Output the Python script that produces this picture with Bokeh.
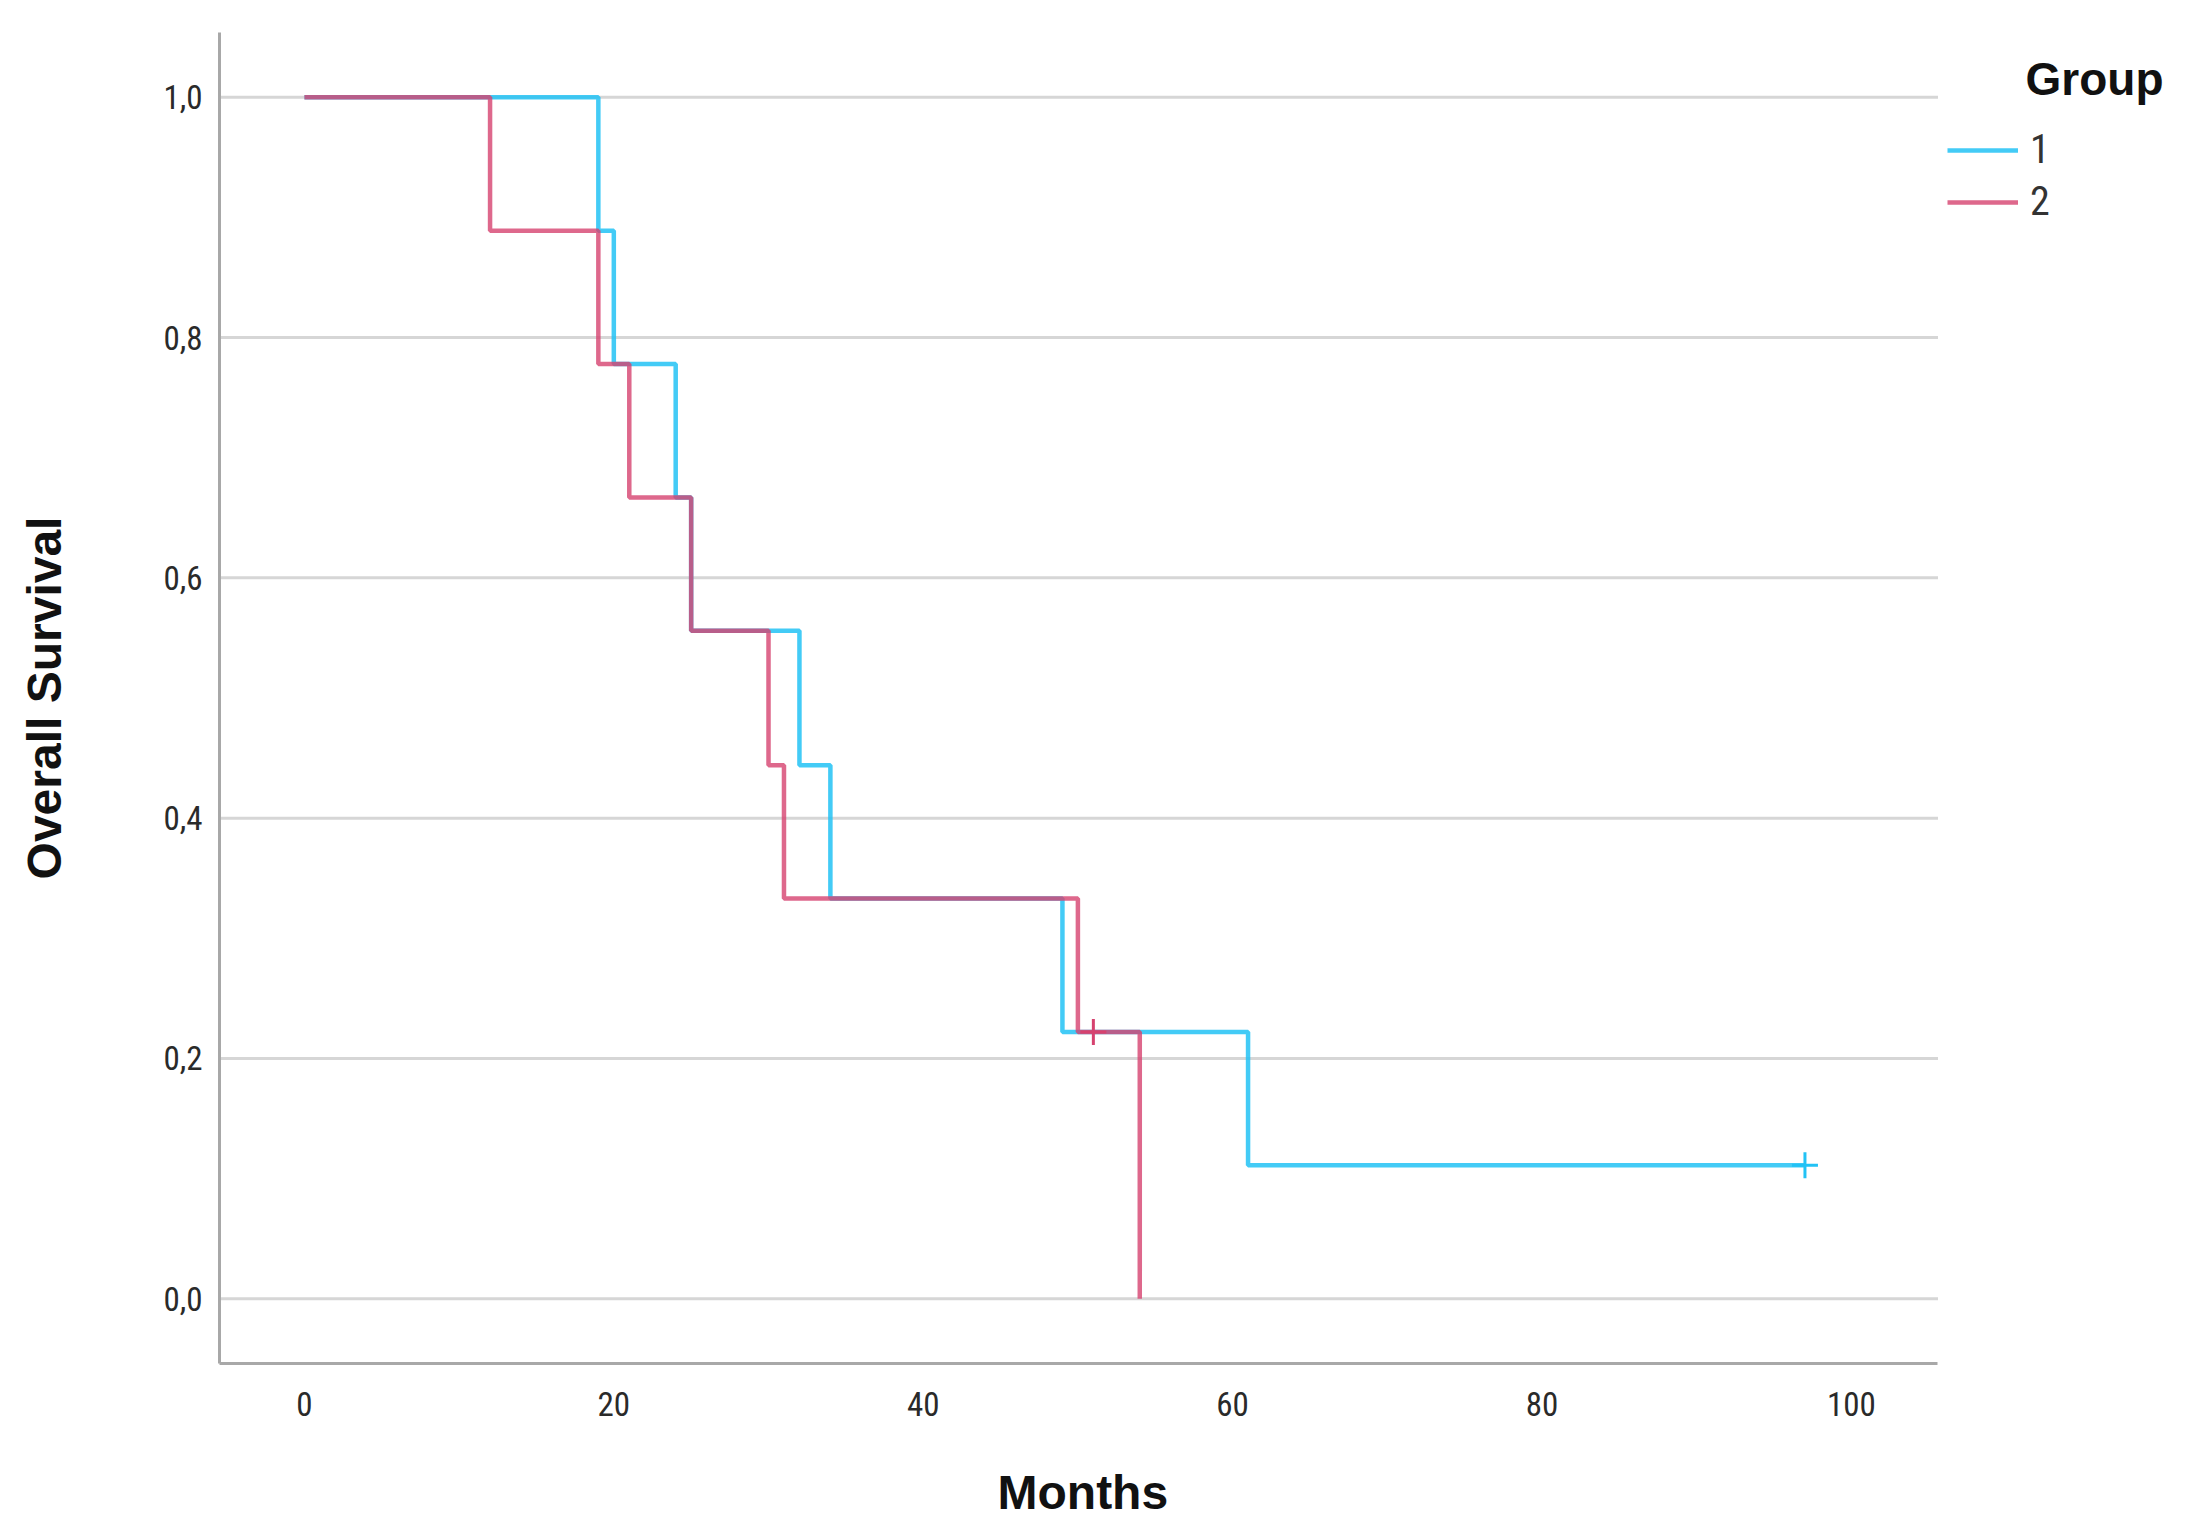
from bokeh.plotting import figure
from bokeh.models import (Range1d, FixedTicker, CustomJSTickFormatter, Legend,
                          LegendItem, Label, Title)
from bokeh.embed import file_html
from bokeh.resources import INLINE

# ---- data ----
group_names = ["1", "2"]
g1_times = [0, 19, 20, 24, 25, 32, 34, 49, 61, 97]
g1_surv = [1.0, 0.889, 0.778, 0.667, 0.556, 0.444, 0.333, 0.222, 0.111, 0.111]
g1_censor_t = [97]
g1_censor_s = [0.111]
g2_times = [0, 12, 19, 21, 25, 30, 31, 50, 54]
g2_surv = [1.0, 0.889, 0.778, 0.667, 0.556, 0.444, 0.333, 0.222, 0.0]
g2_censor_t = [51]
g2_censor_s = [0.222]
x_ticks = [0, 20, 40, 60, 80, 100]
y_ticks = [0.0, 0.2, 0.4, 0.6, 0.8, 1.0]

# ---- layout / style ----
X_START, X_AXIS_END, X_VIEW_END = -5.49, 105.6, 120.63
Y_START, Y_END = -0.054, 1.054

C1 = "#22c2f5"
C2 = "#d6426f"
NARROW = "Liberation Sans Narrow, Roboto Condensed, Liberation Sans, Arial, sans-serif"
BOLD = "Liberation Sans, Arial, sans-serif"

p = figure(width=2170, height=1524, output_backend="svg", toolbar_location=None,
           x_range=Range1d(X_START, X_VIEW_END), y_range=Range1d(Y_START, Y_END),
           min_border_left=219, min_border_right=0, min_border_top=32,
           min_border_bottom=161)
p.outline_line_color = None
p.background_fill_color = "white"
p.xgrid.grid_line_color = None
p.ygrid.grid_line_color = None

# horizontal grid lines, limited to the axis extent
n = len(y_ticks)
p.segment(x0=[X_START] * n, y0=y_ticks, x1=[X_AXIS_END] * n, y1=y_ticks,
          line_color="#d6d6d6", line_width=3)

p.xaxis.ticker = FixedTicker(ticks=x_ticks)
p.yaxis.ticker = FixedTicker(ticks=y_ticks)
p.yaxis.formatter = CustomJSTickFormatter(code="return tick.toFixed(1).replace('.', ',');")
p.xaxis.bounds = (X_START, X_AXIS_END)

for ax in (p.xaxis, p.yaxis):
    ax.axis_line_color = "#a8a8a8"
    ax.axis_line_width = 3
    ax.major_tick_line_color = None
    ax.minor_tick_line_color = None
    ax.major_label_text_font = NARROW
    ax.major_label_text_font_size = "33px"
    ax.major_label_text_color = "#2a2a2a"
    ax.axis_label_text_font = BOLD
    ax.axis_label_text_font_style = "bold"
    ax.axis_label_text_font_size = "48px"
    ax.axis_label_text_color = "#111111"

p.yaxis.axis_label = "Overall Survival"
p.xaxis.major_label_standoff = 22
p.yaxis.major_label_standoff = 11
p.yaxis.axis_label_standoff = 89

# spacer below the x tick labels (blank axis label) so the title sits lower
p.xaxis.axis_label = " "
p.xaxis.axis_label_text_font_size = "2px"
p.xaxis.axis_label_standoff = 40

# x-axis title, centred under the visible axis extent (not the whole frame)
p.add_layout(Title(text="Months", align="left", offset=778, standoff=0,
                   text_font=BOLD, text_font_style="bold", text_font_size="48px",
                   text_color="#111111"), "below")

r1 = p.step(g1_times, g1_surv, mode="after", line_color=C1, line_width=4.5, line_alpha=0.85)
r2 = p.step(g2_times, g2_surv, mode="after", line_color=C2, line_width=4.5, line_alpha=0.8)
p.scatter(g1_censor_t, g1_censor_s, marker="cross", size=26, line_color=C1, line_width=3)
p.scatter(g2_censor_t, g2_censor_s, marker="cross", size=26, line_color=C2, line_width=3)

legend = Legend(items=[LegendItem(label=group_names[0], renderers=[r1]),
                       LegendItem(label=group_names[1], renderers=[r2])],
                location=(1728, 1138))
legend.background_fill_alpha = 0
legend.border_line_color = None
legend.padding = 0
legend.margin = 0
legend.glyph_width = 71
legend.glyph_height = 42
legend.label_height = 42
legend.label_standoff = 12
legend.spacing = 5
legend.label_text_font = NARROW
legend.label_text_font_size = "40px"
legend.label_text_color = "#333333"
p.add_layout(legend)

p.add_layout(Label(x=1806, y=1285, x_units="screen", y_units="screen", text="Group",
                   text_font=BOLD, text_font_style="bold", text_font_size="46px",
                   text_color="#111111", text_baseline="alphabetic"))

open("out.html", "w").write(file_html(p, INLINE))
